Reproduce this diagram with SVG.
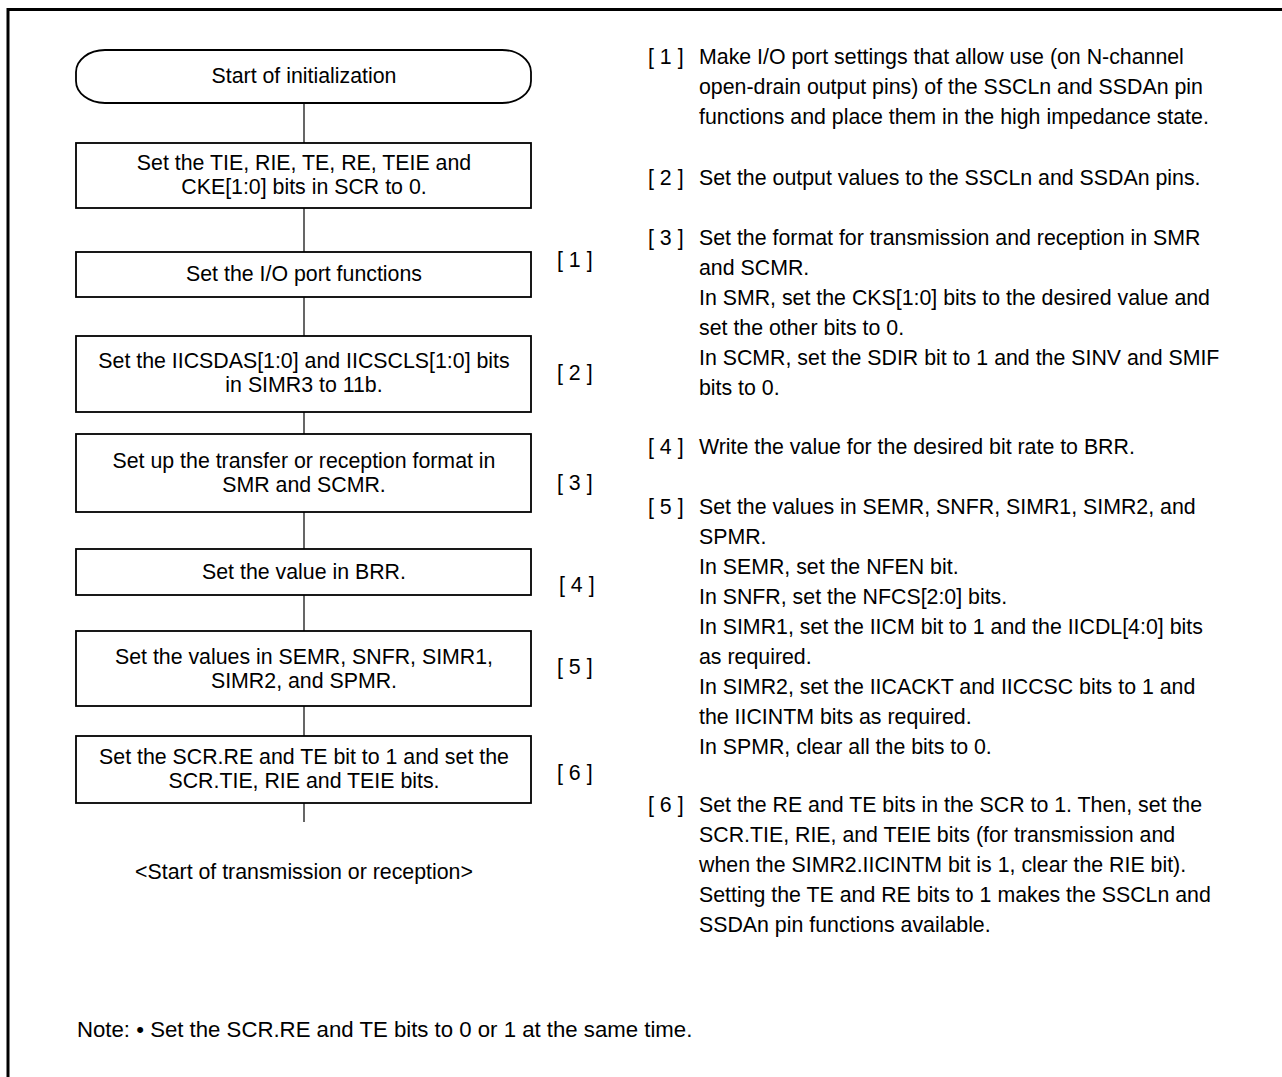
<svg xmlns="http://www.w3.org/2000/svg" width="1282" height="1077" viewBox="0 0 1282 1077">
<style>
text{font-family:"Liberation Sans",Arial,sans-serif;font-size:21.33px;fill:#000}
.c{text-anchor:middle}
.note{font-size:22.2px}
.box{fill:#fff;stroke:#000;stroke-width:1.8}
.conn line{stroke:#000;stroke-width:1.2}
</style>
<rect x="0" y="0" width="1282" height="1077" fill="#fff"/>
<path d="M8,1077 V9.5 H1282" fill="none" stroke="#000" stroke-width="3"/>
<g class="conn" id="connectors">
<line x1="304" y1="103" x2="304" y2="143"/>
<line x1="304" y1="208" x2="304" y2="252"/>
<line x1="304" y1="297" x2="304" y2="336"/>
<line x1="304" y1="412" x2="304" y2="434"/>
<line x1="304" y1="512" x2="304" y2="549"/>
<line x1="304" y1="595" x2="304" y2="631"/>
<line x1="304" y1="706" x2="304" y2="736"/>
<line x1="304" y1="803" x2="304" y2="822"/>
</g>
<g id="start"><rect class="box" x="76" y="50" width="455" height="53" rx="29" ry="22"/><text class="c" x="304" y="83">Start of initialization</text></g>
<g id="step0"><rect class="box" x="76" y="143" width="455" height="65"/><text class="c" x="304" y="170">Set the TIE, RIE, TE, RE, TEIE and</text><text class="c" x="304" y="194">CKE[1:0] bits in SCR to 0.</text></g>
<g id="step1"><rect class="box" x="76" y="252" width="455" height="45"/><text class="c" x="304" y="281">Set the I/O port functions</text></g>
<g id="step2"><rect class="box" x="76" y="336" width="455" height="76"/><text class="c" x="304" y="368">Set the IICSDAS[1:0] and IICSCLS[1:0] bits</text><text class="c" x="304" y="392">in SIMR3 to 11b.</text></g>
<g id="step3"><rect class="box" x="76" y="434" width="455" height="78"/><text class="c" x="304" y="468">Set up the transfer or reception format in</text><text class="c" x="304" y="492">SMR and SCMR.</text></g>
<g id="step4"><rect class="box" x="76" y="549" width="455" height="46"/><text class="c" x="304" y="579">Set the value in BRR.</text></g>
<g id="step5"><rect class="box" x="76" y="631" width="455" height="75"/><text class="c" x="304" y="664">Set the values in SEMR, SNFR, SIMR1,</text><text class="c" x="304" y="688">SIMR2, and SPMR.</text></g>
<g id="step6"><rect class="box" x="76" y="736" width="455" height="67"/><text class="c" x="304" y="764">Set the SCR.RE and TE bit to 1 and set the</text><text class="c" x="304" y="788">SCR.TIE, RIE and TEIE bits.</text></g>
<g id="end"><text class="c" x="304" y="879">&lt;Start of transmission or reception&gt;</text></g>
<g id="labels">
<text x="557" y="267">[ 1 ]</text>
<text x="557" y="380">[ 2 ]</text>
<text x="557" y="490">[ 3 ]</text>
<text x="559" y="592">[ 4 ]</text>
<text x="557" y="674">[ 5 ]</text>
<text x="557" y="780">[ 6 ]</text>
</g>
<g id="notes">
<text x="648" y="64">[ 1 ]</text>
<text x="699" y="64">Make I/O port settings that allow use (on N-channel</text>
<text x="699" y="94">open-drain output pins) of the SSCLn and SSDAn pin</text>
<text x="699" y="124">functions and place them in the high impedance state.</text>
<text x="648" y="185">[ 2 ]</text>
<text x="699" y="185">Set the output values to the SSCLn and SSDAn pins.</text>
<text x="648" y="245">[ 3 ]</text>
<text x="699" y="245">Set the format for transmission and reception in SMR</text>
<text x="699" y="275">and SCMR.</text>
<text x="699" y="305">In SMR, set the CKS[1:0] bits to the desired value and</text>
<text x="699" y="335">set the other bits to 0.</text>
<text x="699" y="365">In SCMR, set the SDIR bit to 1 and the SINV and SMIF</text>
<text x="699" y="395">bits to 0.</text>
<text x="648" y="454">[ 4 ]</text>
<text x="699" y="454">Write the value for the desired bit rate to BRR.</text>
<text x="648" y="514">[ 5 ]</text>
<text x="699" y="514">Set the values in SEMR, SNFR, SIMR1, SIMR2, and</text>
<text x="699" y="544">SPMR.</text>
<text x="699" y="574">In SEMR, set the NFEN bit.</text>
<text x="699" y="604">In SNFR, set the NFCS[2:0] bits.</text>
<text x="699" y="634">In SIMR1, set the IICM bit to 1 and the IICDL[4:0] bits</text>
<text x="699" y="664">as required.</text>
<text x="699" y="694">In SIMR2, set the IICACKT and IICCSC bits to 1 and</text>
<text x="699" y="724">the IICINTM bits as required.</text>
<text x="699" y="754">In SPMR, clear all the bits to 0.</text>
<text x="648" y="812">[ 6 ]</text>
<text x="699" y="812">Set the RE and TE bits in the SCR to 1. Then, set the</text>
<text x="699" y="842">SCR.TIE, RIE, and TEIE bits (for transmission and</text>
<text x="699" y="872">when the SIMR2.IICINTM bit is 1, clear the RIE bit).</text>
<text x="699" y="902">Setting the TE and RE bits to 1 makes the SSCLn and</text>
<text x="699" y="932">SSDAn pin functions available.</text>
</g>
<text class="note" x="77" y="1037">Note: • Set the SCR.RE and TE bits to 0 or 1 at the same time.</text>
</svg>
